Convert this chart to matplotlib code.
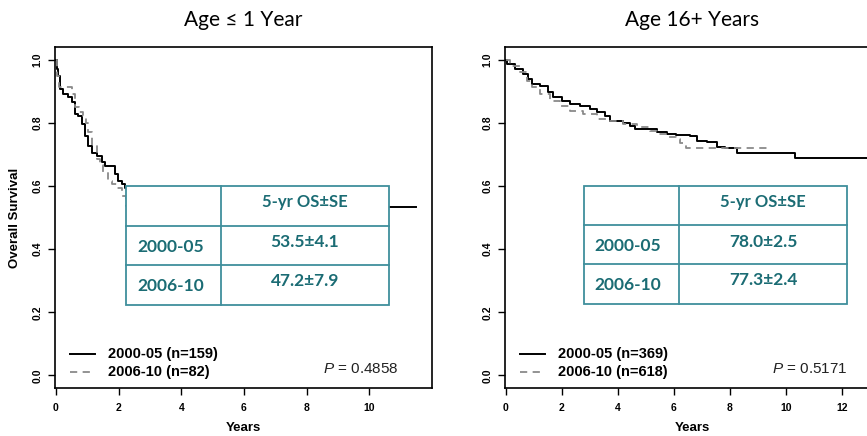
import matplotlib

matplotlib.use("Agg")
import matplotlib.pyplot as plt
from matplotlib.patches import Rectangle

plt.rcParams["mathtext.fontset"] = "custom"
plt.rcParams["mathtext.it"] = "Liberation Sans:italic"
plt.rcParams["mathtext.rm"] = "Liberation Sans"

# ---- data (Kaplan-Meier steps) ----
titles = ["Age \u2264 1 Year", "Age 16+ Years"]
cohorts = ["2000-05", "2006-10"]
n_infant = [159, 82]
n_adult = [369, 618]
os_infant = ["53.5\u00b14.1", "47.2\u00b17.9"]
os_adult = ["78.0\u00b12.5", "77.3\u00b12.4"]
p_values = [0.4858, 0.5171]

infant_t_a = [0, 0.03, 0.07, 0.13, 0.23, 0.39, 0.5, 0.61, 0.71, 0.82, 0.93, 1.03,
              1.14, 1.3, 1.46, 1.56, 1.88, 1.99, 2.1, 2.2, 2.6, 3.1, 3.8, 4.5, 11.5]
infant_s_a = [1.0, 0.97, 0.949, 0.907, 0.891, 0.881, 0.865, 0.828, 0.822, 0.796, 0.759, 0.727,
              0.706, 0.696, 0.675, 0.664, 0.637, 0.616, 0.606, 0.595, 0.58, 0.565, 0.55, 0.535, 0.535]
infant_t_b = [0, 0.05, 0.1, 0.5, 0.6, 0.75, 0.87, 0.95, 1.03, 1.15, 1.3, 1.4, 1.51,
              1.67, 1.8, 1.94, 2.1, 2.23, 3.0, 4.0, 5.5]
infant_s_b = [1.0, 0.95, 0.912, 0.891, 0.849, 0.835, 0.822, 0.80, 0.77, 0.73, 0.685, 0.665, 0.643,
              0.616, 0.605, 0.595, 0.569, 0.537, 0.51, 0.49, 0.472]

adult_t_a = [0, 0.04, 0.33, 0.63, 0.81, 0.93, 1.22, 1.52, 1.7, 2.0, 2.3, 2.65, 3.0, 3.25,
             3.55, 3.72, 4.2, 4.44, 4.62, 5.15, 5.39, 5.75, 6.1, 6.58, 6.82, 7.18, 7.54,
             7.83, 8.25, 10.33, 13.5]
adult_s_a = [1.0, 0.986, 0.97, 0.955, 0.939, 0.923, 0.918, 0.897, 0.881, 0.87, 0.86, 0.854,
             0.844, 0.833, 0.822, 0.807, 0.801, 0.791, 0.782, 0.78, 0.77, 0.764, 0.761, 0.757,
             0.743, 0.738, 0.722, 0.719, 0.706, 0.69, 0.69]
adult_t_b = [0, 0.15, 0.51, 0.75, 0.93, 1.22, 1.58, 1.94, 2.3, 2.77, 3.25, 3.6, 4.2, 4.68,
             5.15, 5.39, 5.75, 6.1, 6.23, 6.46, 9.34]
adult_s_b = [1.0, 0.981, 0.96, 0.933, 0.912, 0.891, 0.87, 0.854, 0.838, 0.828, 0.812, 0.807,
             0.796, 0.786, 0.775, 0.764, 0.754, 0.749, 0.736, 0.719, 0.719]

TEAL_LINE = "#3f8f9c"
TEAL_TEXT = "#1b6c74"


def draw_panel(ax, title, curves, xlim, xticks, ns, os_vals, p, tbl):
    (ta, sa), (tb, sb) = curves
    ax.step(ta, sa, where="post", color="black", lw=1.4, zorder=2)
    ax.step(tb, sb, where="post", color="#8a8a8a", lw=1.3, dashes=(4, 3), zorder=2)
    ax.set_xlim(*xlim)
    ax.set_ylim(-0.04, 1.04)
    ax.set_xticks(xticks)
    ax.set_yticks([0.0, 0.2, 0.4, 0.6, 0.8, 1.0])
    ax.set_yticklabels([f"{v:.1f}" for v in ax.get_yticks()], rotation=90, va="center")
    ax.tick_params(direction="out", length=5, width=1, labelsize=7.5)
    ax.tick_params(axis="x", pad=6)
    ax.tick_params(axis="y", pad=4)
    for lab in ax.get_xticklabels() + ax.get_yticklabels():
        lab.set_fontweight("bold")
        lab.set_family("Liberation Sans")
    for sp in ax.spines.values():
        sp.set_linewidth(1.2)
    ax.set_title(title, family="Lato", fontsize=15, pad=15)

    # summary table
    x0, x1, xc, y0, y1, yr1, yr2 = tbl["box"]
    ax.add_patch(Rectangle((x0, y0), x1 - x0, y1 - y0, transform=ax.transAxes,
                           facecolor="white", edgecolor=TEAL_LINE, lw=1.3, zorder=5))
    ax.plot([xc, xc], [y0, y1], transform=ax.transAxes, color=TEAL_LINE, lw=1.3, zorder=6)
    for yy in (yr1, yr2):
        ax.plot([x0, x1], [yy, yy], transform=ax.transAxes, color=TEAL_LINE, lw=1.3, zorder=6)
    tk = dict(transform=ax.transAxes, family="Lato", fontweight="bold", color=TEAL_TEXT,
              zorder=7, va="center")
    hx, hy, lx, ly, vy = tbl["text"]
    ax.text(hx, hy, "5-yr OS\u00b1SE", ha="center", fontsize=12, **tk)
    for i, (c, v) in enumerate(zip(cohorts, os_vals)):
        ax.text(lx, ly[i], c, ha="left", fontsize=12.5, **tk)
        ax.text(hx, vy[i], v, ha="center", fontsize=12.5, **tk)

    # legend
    leg_y = [0.10, 0.047]
    ax.plot([0.04, 0.106], [leg_y[0]] * 2, transform=ax.transAxes, color="black", lw=1.4)
    ax.plot([0.04, 0.106], [leg_y[1]] * 2, transform=ax.transAxes, color="#8a8a8a",
            lw=1.3, dashes=(4, 3))
    for i, c in enumerate(cohorts):
        ax.text(0.14, leg_y[i], f"{c} (n={ns[i]})", transform=ax.transAxes, va="center",
                family="Liberation Sans", fontweight="bold", fontsize=10.5)
    ax.text(tbl["p_x"], 0.056, f"$P$ = {p:.4f}", transform=ax.transAxes, ha="right",
            va="center", family="Liberation Sans", fontsize=11, color="#222222")


fig = plt.figure(figsize=(8.67, 4.36), dpi=100)
ax1 = fig.add_axes([0.0634, 0.110, 0.4348, 0.782])
ax2 = fig.add_axes([0.5825, 0.110, 0.4325, 0.782])

draw_panel(ax1, titles[0], [(infant_t_a, infant_s_a), (infant_t_b, infant_s_b)],
           (-0.03, 12.0), [0, 2, 4, 6, 8, 10], n_infant, os_infant, p_values[0],
           dict(box=(0.188, 0.886, 0.440, 0.243, 0.592, 0.475, 0.361),
                text=(0.663, 0.545, 0.218, [0.413, 0.299], [0.428, 0.314]), p_x=0.91))
draw_panel(ax2, titles[1], [(adult_t_a, adult_s_a), (adult_t_b, adult_s_b)],
           (-0.02, 13.37), [0, 2, 4, 6, 8, 10, 12], n_adult, os_adult, p_values[1],
           dict(box=(0.211, 0.912, 0.464, 0.246, 0.592, 0.478, 0.364),
                text=(0.688, 0.545, 0.237, [0.416, 0.302], [0.428, 0.317]), p_x=0.912))

fig.text(15 / 867, 0.5, "Overall Survival", rotation=90, va="center", ha="center",
         family="Liberation Sans", fontweight="bold", fontsize=9.5)
for ax in (ax1, ax2):
    pos = ax.get_position()
    fig.text(pos.x0 + pos.width / 2, 0.018, "Years", ha="center", va="center",
             family="Liberation Sans", fontweight="bold", fontsize=9.5)

fig.savefig("out.png", dpi=100)
